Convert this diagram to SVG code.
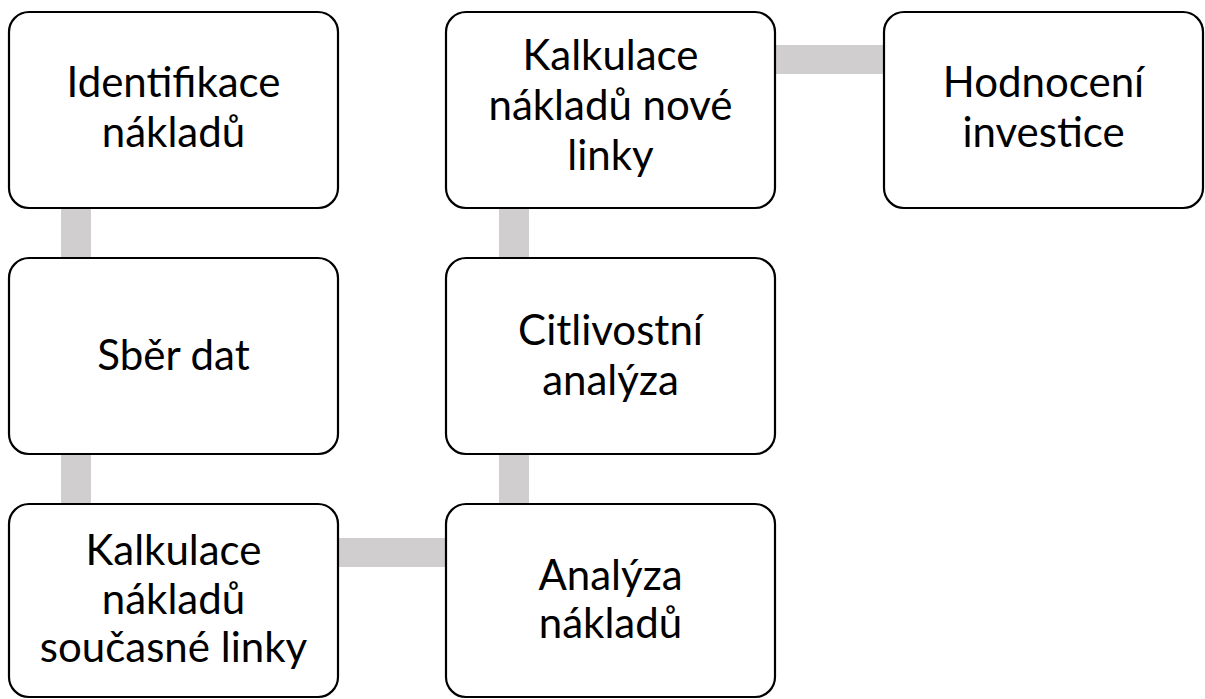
<svg xmlns="http://www.w3.org/2000/svg" width="1205" height="699" viewBox="0 0 1205 699">
  <style>
    .box { fill: #ffffff; stroke: #000000; stroke-width: 2.2; }
    .bar { fill: #d0cece; }
    .label { font-family: Lato, "Open Sans", "Liberation Sans", sans-serif; font-size: 42px; fill: #000000; text-anchor: middle; }
  </style>
  <rect width="1205" height="699" fill="#ffffff"/>

  <!-- connecting bars, drawn under the boxes -->
  <g id="connectors">
    <rect class="bar" x="61" y="200" width="30" height="66"/>
    <rect class="bar" x="61" y="446" width="30" height="66"/>
    <rect class="bar" x="330" y="538" width="124" height="29"/>
    <rect class="bar" x="499" y="446" width="30" height="66"/>
    <rect class="bar" x="499" y="200" width="30" height="66"/>
    <rect class="bar" x="767" y="45" width="124" height="29"/>
  </g>

  <g id="n1">
    <rect class="box" x="9" y="12" width="329" height="196" rx="20"/>
    <text class="label" x="173.5"><tspan x="173.5" y="97">Identifikace</tspan><tspan x="173.5" y="147">nákladů</tspan></text>
  </g>

  <g id="n2">
    <rect class="box" x="9" y="258" width="329" height="196" rx="20"/>
    <text class="label" x="173.5" y="370">Sběr dat</text>
  </g>

  <g id="n3">
    <rect class="box" x="9" y="504" width="329" height="193" rx="20"/>
    <text class="label" x="173.5"><tspan x="173.5" y="565">Kalkulace</tspan><tspan x="173.5" y="614">nákladů</tspan><tspan x="173.5" y="662">současné linky</tspan></text>
  </g>

  <g id="n4">
    <rect class="box" x="446" y="504" width="329" height="193" rx="20"/>
    <text class="label" x="610.5"><tspan x="610.5" y="590">Analýza</tspan><tspan x="610.5" y="638">nákladů</tspan></text>
  </g>

  <g id="n5">
    <rect class="box" x="446" y="258" width="329" height="196" rx="20"/>
    <text class="label" x="610.5"><tspan x="610.5" y="345">Citlivostní</tspan><tspan x="610.5" y="395">analýza</tspan></text>
  </g>

  <g id="n6">
    <rect class="box" x="446" y="12" width="329" height="196" rx="20"/>
    <text class="label" x="610.5"><tspan x="610.5" y="70">Kalkulace</tspan><tspan x="610.5" y="120">nákladů nové</tspan><tspan x="610.5" y="170">linky</tspan></text>
  </g>

  <g id="n7">
    <rect class="box" x="884" y="12" width="319" height="196" rx="20"/>
    <text class="label" x="1043.5"><tspan x="1043.5" y="97">Hodnocení</tspan><tspan x="1043.5" y="147">investice</tspan></text>
  </g>
</svg>
